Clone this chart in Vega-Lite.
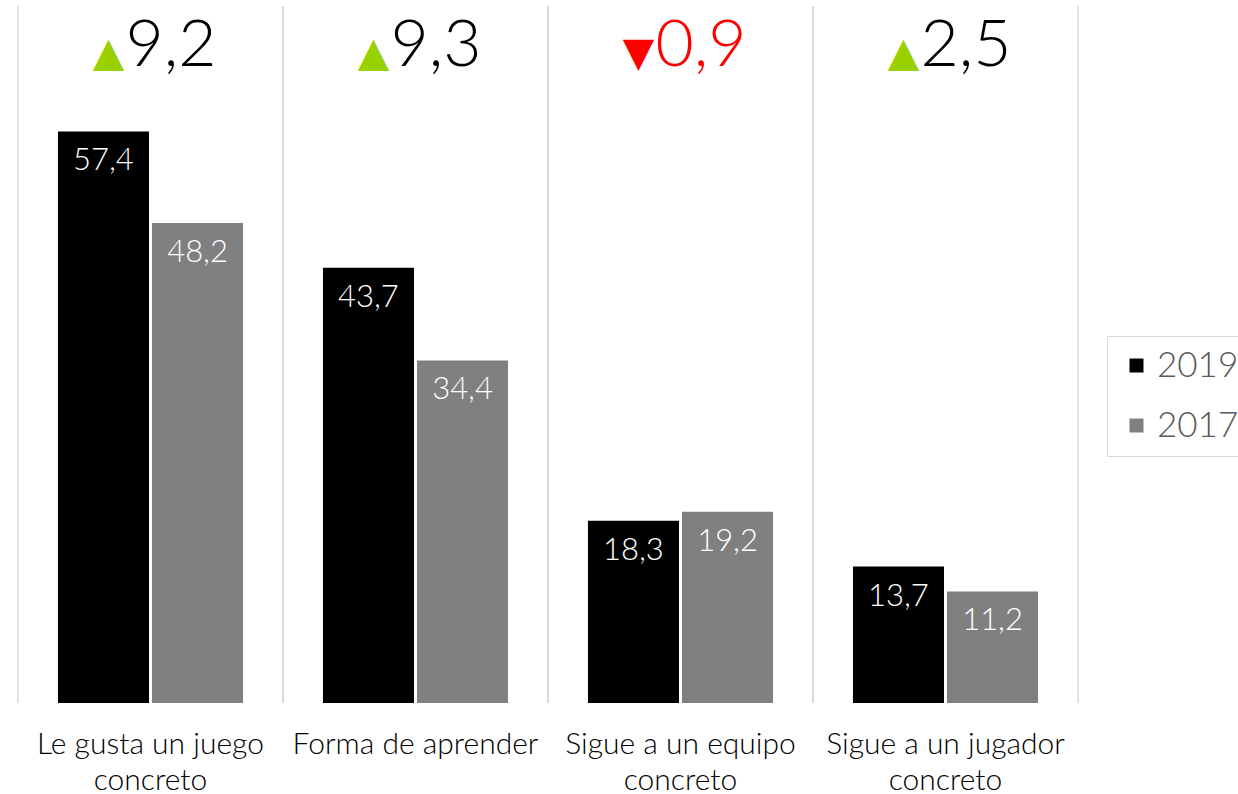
{
  "$schema": "https://vega.github.io/schema/vega-lite/v6.json",
  "width": 1060,
  "height": 697,
  "autosize": {"type": "none"},
  "padding": {"left": 18, "top": 6, "right": 160, "bottom": 91},
  "background": "white",
  "config": {
    "view": {"stroke": null},
    "font": "Lato",
    "locale": {"number": {"decimal": ",", "thousands": ".", "grouping": [3], "currency": ["", " €"]}}
  },
  "datasets": {
    "bars": [
      {"cat": "Le gusta un juego concreto", "year": "2019", "value": 57.4},
      {"cat": "Le gusta un juego concreto", "year": "2017", "value": 48.2},
      {"cat": "Forma de aprender", "year": "2019", "value": 43.7},
      {"cat": "Forma de aprender", "year": "2017", "value": 34.4},
      {"cat": "Sigue a un equipo concreto", "year": "2019", "value": 18.3},
      {"cat": "Sigue a un equipo concreto", "year": "2017", "value": 19.2},
      {"cat": "Sigue a un jugador concreto", "year": "2019", "value": 13.7},
      {"cat": "Sigue a un jugador concreto", "year": "2017", "value": 11.2}
    ],
    "deltas": [
      {"cat": "Le gusta un juego concreto", "delta": 9.2, "dir": "up"},
      {"cat": "Forma de aprender", "delta": 9.3, "dir": "up"},
      {"cat": "Sigue a un equipo concreto", "delta": 0.9, "dir": "down"},
      {"cat": "Sigue a un jugador concreto", "delta": 2.5, "dir": "up"}
    ]
  },
  "layer": [
    {
      "data": {"name": "bars"},
      "mark": {"type": "bar"},
      "encoding": {
        "x": {
          "field": "cat", "type": "nominal",
          "scale": {"domain": ["Le gusta un juego concreto", "Forma de aprender", "Sigue a un equipo concreto", "Sigue a un jugador concreto"], "paddingInner": 0, "paddingOuter": 0},
          "axis": {
            "title": null, "domain": false, "ticks": false, "grid": false, "labelAngle": 0,
            "labelFontSize": 30, "labelFontWeight": 300, "labelColor": "#000000", "labelPadding": 26, "labelLineHeight": 36, "labelLimit": 0, "labelBaseline": "top",
            "labelExpr": "datum.value == 'Le gusta un juego concreto' ? ['Le gusta un juego', 'concreto'] : datum.value == 'Sigue a un equipo concreto' ? ['Sigue a un equipo', 'concreto'] : datum.value == 'Sigue a un jugador concreto' ? ['Sigue a un jugador', 'concreto'] : datum.value"
          }
        },
        "xOffset": {"field": "year", "type": "nominal", "sort": ["2019", "2017"], "scale": {"paddingInner": 0.032, "paddingOuter": 0.425}},
        "y": {"field": "value", "type": "quantitative", "scale": {"domain": [0, 70], "nice": false}, "axis": null},
        "color": {
          "field": "year", "type": "nominal",
          "scale": {"domain": ["2019", "2017"], "range": ["#000000", "#808080"]},
          "legend": {
            "title": null, "orient": "none", "legendX": 1089, "legendY": 330,
            "strokeColor": "#d9d9d9", "fillColor": "white", "padding": 12,
            "symbolType": "square", "symbolSize": 196, "symbolStrokeWidth": 0,
            "labelFontSize": 35, "labelFontWeight": 300, "labelColor": "#595959", "rowPadding": 24, "labelOffset": 3
          }
        }
      }
    },
    {
      "data": {"name": "deltas"},
      "mark": {"type": "rule", "color": "#d9d9d9", "strokeWidth": 1.5},
      "encoding": {
        "x": {"field": "cat", "type": "nominal", "bandPosition": 0}
      }
    },
    {
      "data": {"name": "deltas"},
      "mark": {"type": "rule", "color": "#d9d9d9", "strokeWidth": 1.5},
      "encoding": {
        "x": {"field": "cat", "type": "nominal", "bandPosition": 1}
      }
    },
    {
      "data": {"name": "bars"},
      "mark": {"type": "text", "color": "white", "baseline": "top", "dy": 15, "fontSize": 31, "fontWeight": 300, "align": "center"},
      "encoding": {
        "x": {"field": "cat", "type": "nominal"},
        "xOffset": {"field": "year", "type": "nominal", "sort": ["2019", "2017"]},
        "y": {"field": "value", "type": "quantitative"},
        "text": {"field": "value", "type": "quantitative", "format": ".1f"}
      }
    },
    {
      "data": {"name": "deltas"},
      "mark": {"type": "text", "font": "DejaVu Sans", "fontSize": 41, "align": "center", "baseline": "alphabetic", "dx": -42},
      "encoding": {
        "x": {"field": "cat", "type": "nominal"},
        "y": {"datum": 64.0},
        "text": {"condition": {"test": "datum.dir == 'up'", "value": "▲"}, "value": "▼"},
        "color": {"condition": {"test": "datum.dir == 'up'", "value": "#99d100"}, "value": "#ff0000"}
      }
    },
    {
      "data": {"name": "deltas"},
      "mark": {"type": "text", "fontSize": 66, "fontWeight": 300, "align": "left", "baseline": "alphabetic", "dx": -25},
      "encoding": {
        "x": {"field": "cat", "type": "nominal"},
        "y": {"datum": 64.0},
        "text": {"field": "delta", "type": "quantitative", "format": ".1f"},
        "color": {"condition": {"test": "datum.dir == 'up'", "value": "#000000"}, "value": "#ff0000"}
      }
    }
  ]
}
